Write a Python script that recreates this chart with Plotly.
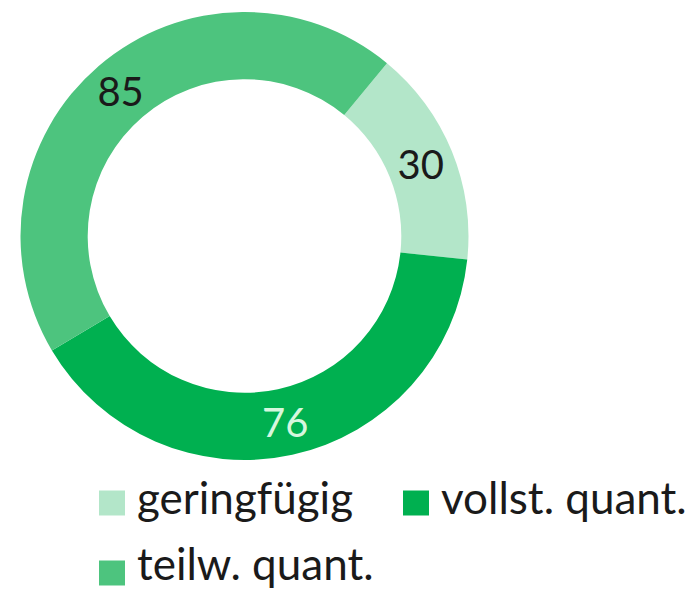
import plotly.graph_objects as go

# ---- data ----
categories = ["geringfügig", "vollst. quant.", "teilw. quant."]
values = [30, 76, 85]
colors = ["#b3e6c9", "#00b050", "#4dc47e"]
label_colors = ["#1a1a1a", "#d6f7de", "#1a1a1a"]

W, H = 693, 591
FONT = "Lato"

def px_x(x):
    return x / W

def px_y(y):
    return 1 - y / H

# donut geometry (pixels)
cx, cy, R = 236.5, 228, 224

fig = go.Figure()
fig.add_trace(go.Pie(
    labels=categories,
    values=values,
    marker=dict(colors=colors, line=dict(width=0)),
    hole=0.70,
    sort=False,
    direction="clockwise",
    rotation=39.5,
    texttemplate="%{value}",
    textposition="inside",
    insidetextorientation="horizontal",
    textfont=dict(family=FONT, size=40, color=label_colors),
    domain=dict(x=[px_x(cx - R), px_x(cx + R)], y=[px_y(cy + R), px_y(cy - R)]),
    showlegend=False,
    hoverinfo="label+value",
))

# legend (manual, larger swatches than plotly allows for pies)
# (swatch x, swatch centre y, text x, text centre y)
legend_pos = [(91, 495, 128, 489), (395, 495, 432, 489), (91, 565, 128, 555)]
shapes = []
annotations = []
for (sx, sy, tx, ty), name, col in zip(legend_pos, categories, colors):
    shapes.append(dict(type="rect", xref="paper", yref="paper",
                       x0=px_x(sx), x1=px_x(sx + 26), y0=px_y(sy + 12.5), y1=px_y(sy - 12.5),
                       fillcolor=col, line=dict(width=0)))
    annotations.append(dict(x=px_x(tx), y=px_y(ty), xref="paper", yref="paper",
                            text=name, showarrow=False, xanchor="left", yanchor="middle",
                            borderpad=0,
                            font=dict(family=FONT, size=44, color="#1a1a1a")))

fig.update_layout(
    width=W, height=H,
    margin=dict(l=0, r=0, t=0, b=0),
    paper_bgcolor="white",
    plot_bgcolor="white",
    shapes=shapes,
    annotations=annotations,
)

fig.write_html("out.html")
